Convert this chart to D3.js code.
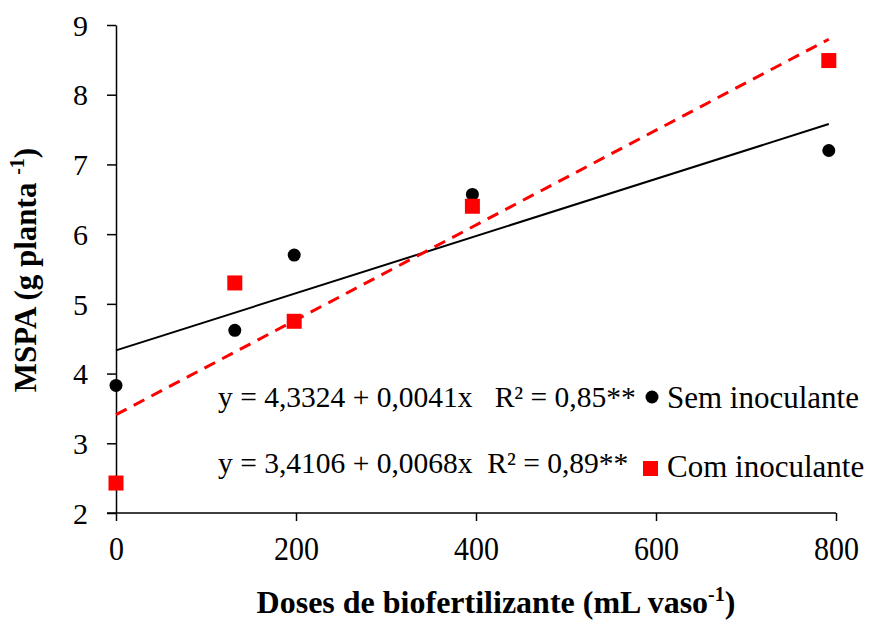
<!DOCTYPE html>
<html>
<head>
<meta charset="utf-8">
<script src="https://cdn.jsdelivr.net/npm/d3@7"></script>
<style>
  body { margin: 0; background: #fff; }
  svg { display: block; font-family: "Liberation Serif", "Times New Roman", serif; }
  .axis path, .axis line { stroke: #000; stroke-width: 1.5; }
  .axis text { font-size: 30px; fill: #000; font-family: "Liberation Serif", serif; }
</style>
</head>
<body>
<svg id="chart"></svg>
<script>
  // data
  const doses = [0, 132, 198, 396, 792];
  const semInoculante = [3.83, 4.62, 5.70, 6.57, 7.20];
  const comInoculante = [2.43, 5.30, 4.75, 6.40, 8.49];
  const xTicks = [0, 200, 400, 600, 800];
  const yTicks = [2, 3, 4, 5, 6, 7, 8, 9];
  const semFit = [4.3324, 0.0041];
  const comFit = [3.4106, 0.0068];
  const semEquation = "y = 4,3324 + 0,0041x   R² = 0,85**";
  const comEquation = "y = 3,4106 + 0,0068x  R² = 0,89**";

  const width = 872;
  const height = 621;
  const margin = {left: 116, right: 36, top: 25, bottom: 108};

  let svg = d3.select("#chart")
              .attr("width", width)
              .attr("height", height);

  let x = d3.scaleLinear()
            .domain([0, 800])
            .range([margin.left, width - margin.right]);

  let y = d3.scaleLinear()
            .domain([2, 9])
            .range([height - margin.bottom, margin.top]);

  //axes
  svg.append("g")
      .attr("class", "axis")
      .attr("transform", `translate(0, ${y(2)})`)
    .call(d3.axisBottom(x).tickValues(xTicks).tickSize(8).tickSizeOuter(0).tickFormat(d3.format("d")))
    .call(g => g.select(".domain").attr("d", `M${x(0) - 9},0H${x(800)}`))
    .call(g => g.selectAll(".tick text")
                .attr("y", 0)
                .attr("dy", 0)
                .attr("transform", "translate(0, 47) scale(1, 1.1)"));

  svg.append("g")
      .attr("class", "axis")
      .attr("transform", `translate(${x(0)}, 0)`)
    .call(d3.axisLeft(y).tickValues(yTicks).tickSize(9).tickSizeOuter(0).tickPadding(19).tickFormat(d3.format("d")))
    .call(g => g.selectAll("text").attr("dy", "0.34em"));

  //trend lines
  let fitLine = (fit) => d3.line()
      .x(d => x(d))
      .y(d => y(fit[0] + fit[1] * d))([0, 792]);

  svg.append("path")
      .attr("d", fitLine(semFit))
      .attr("fill", "none")
      .attr("stroke", "#000")
      .attr("stroke-width", 2);

  svg.append("path")
      .attr("d", fitLine(comFit))
      .attr("fill", "none")
      .attr("stroke", "#ff0000")
      .attr("stroke-width", 3)
      .attr("stroke-dasharray", "12,8");

  //points
  svg.append("g")
    .selectAll("circle")
    .data(doses)
    .enter()
    .append("circle")
      .attr("cx", d => x(d))
      .attr("cy", (d, i) => y(semInoculante[i]))
      .attr("r", 6.5)
      .attr("fill", "#000");

  svg.append("g")
    .selectAll("rect")
    .data(doses)
    .enter()
    .append("rect")
      .attr("x", d => x(d) - 7.5)
      .attr("y", (d, i) => y(comInoculante[i]) - 7.5)
      .attr("width", 15)
      .attr("height", 15)
      .attr("fill", "#ff0000");

  //equations + legend
  svg.append("text")
      .attr("x", 218)
      .attr("y", 407)
      .attr("font-size", 29.5)
      .style("white-space", "pre")
      .text(semEquation);

  svg.append("text")
      .attr("x", 218)
      .attr("y", 473)
      .attr("font-size", 29.5)
      .style("white-space", "pre")
      .text(comEquation);

  svg.append("circle")
      .attr("cx", 652)
      .attr("cy", 397)
      .attr("r", 6.5)
      .attr("fill", "#000");

  svg.append("text")
      .attr("x", 667)
      .attr("y", 408)
      .attr("font-size", 31)
      .text("Sem inoculante");

  svg.append("rect")
      .attr("x", 643)
      .attr("y", 461)
      .attr("width", 15)
      .attr("height", 15)
      .attr("fill", "#ff0000");

  svg.append("text")
      .attr("x", 667)
      .attr("y", 477)
      .attr("font-size", 31)
      .text("Com inoculante");

  //axis titles
  let xTitle = svg.append("text")
      .attr("x", 496)
      .attr("y", 613)
      .attr("text-anchor", "middle")
      .attr("font-size", 32)
      .attr("font-weight", "bold");
  xTitle.append("tspan").text("Doses de biofertilizante (mL vaso");
  xTitle.append("tspan").attr("font-size", 20).attr("dy", -12).text("-1");
  xTitle.append("tspan").attr("dy", 12).text(")");

  let yTitle = svg.append("text")
      .attr("transform", "translate(36, 270) rotate(-90)")
      .attr("text-anchor", "middle")
      .attr("font-size", 31)
      .attr("font-weight", "bold");
  yTitle.append("tspan").text("MSPA (g planta ");
  yTitle.append("tspan").attr("font-size", 20).attr("dy", -12).text("-1");
  yTitle.append("tspan").attr("dy", 12).text(")");
</script>
</body>
</html>
